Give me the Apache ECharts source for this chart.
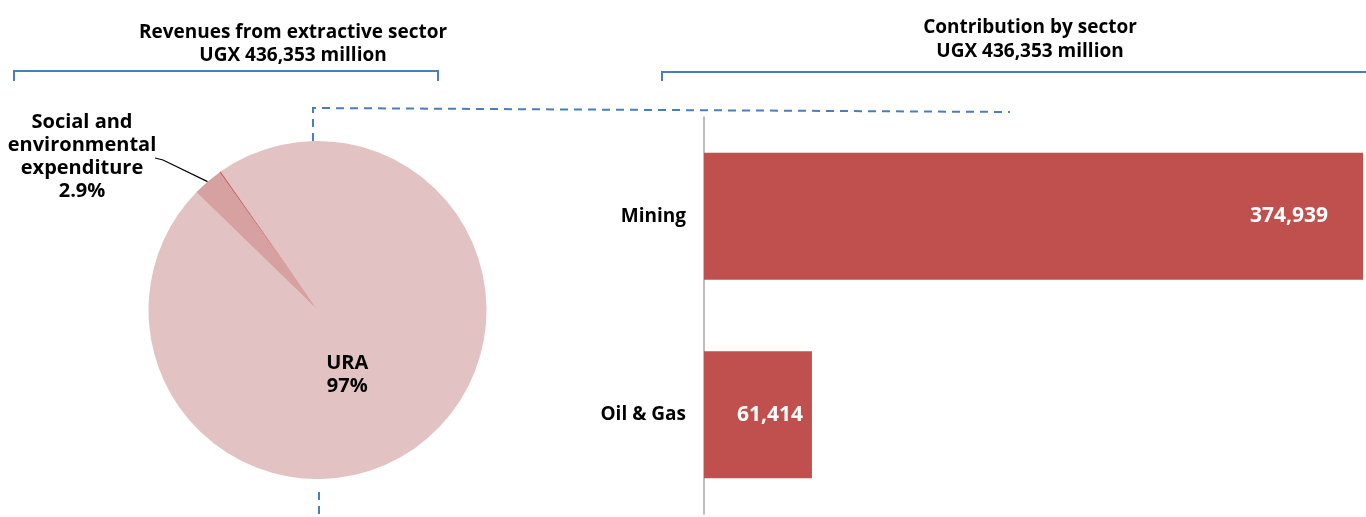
<!DOCTYPE html>
<html><head><meta charset="utf-8">
<script src="https://cdn.jsdelivr.net/npm/echarts@6/dist/echarts.min.js"></script>
<style>html,body{margin:0;padding:0;background:#fff}#c{width:1366px;height:517px}</style>
</head><body><div id="c"></div>
<script>
// ---- data ----
const pieNames = ['URA', 'Social and environmental expenditure', 'Other'];
const pieLabels = ['URA\n97%', 'Social and\nenvironmental\nexpenditure\n2.9%', ''];
const pieValues = [97.0, 2.9, 0.1];
const pieColors = ['#e2c2c3', '#d7a1a1', '#c0504d'];
const sectorCategories = ['Mining', 'Oil & Gas'];
const sectorValues = [374939, 61414];
const sectorLabels = ['374,939', '61,414'];
const leftTitle = ['Revenues from extractive sector', 'UGX 436,353 million'];
const rightTitle = ['Contribution by sector', 'UGX 436,353 million'];

const FONT = '"Open Sans", "DejaVu Sans", sans-serif';
const BLUE = '#4a7ebb';

const chart = echarts.init(document.getElementById('c'), null, {renderer: 'canvas'});

const option = {
  animation: false,
  backgroundColor: '#ffffff',
  title: [
    {
      text: leftTitle.join('\n'), left: 288, top: 16, textAlign: 'center',
      textStyle: {fontFamily: FONT, fontSize: 19, fontWeight: 'bold', color: '#000', lineHeight: 23}
    },
    {
      text: rightTitle.join('\n'), left: 1025, top: 11, textAlign: 'center',
      textStyle: {fontFamily: FONT, fontSize: 19, fontWeight: 'bold', color: '#000', lineHeight: 24}
    }
  ],
  grid: {left: 704, right: 3, top: 117, bottom: 3, containLabel: false},
  xAxis: {type: 'value', min: 0, max: sectorValues[0], show: false},
  yAxis: {
    type: 'category', inverse: true, data: sectorCategories,
    axisLine: {show: true, lineStyle: {color: '#a6a6a6', width: 1.5}},
    axisTick: {show: false},
    axisLabel: {fontFamily: FONT, fontSize: 19, fontWeight: 'bold', color: '#000', margin: 18}
  },
  series: [
    {
      type: 'bar',
      data: sectorValues.map((v, i) => ({
        value: v,
        label: {distance: i === 0 ? 35 : 9}
      })),
      barWidth: 127,
      itemStyle: {color: '#c0504d'},
      label: {
        show: true, position: 'insideRight',
        formatter: p => sectorLabels[p.dataIndex],
        fontFamily: FONT, fontSize: 21, fontWeight: 'bold', color: '#ffffff'
      }
    },
    {
      type: 'pie',
      center: [317.5, 310],
      radius: 169,
      startAngle: 125,
      clockwise: true,
      avoidLabelOverlap: false,
      data: pieValues.map((v, i) => ({
        value: v, name: pieNames[i],
        itemStyle: {color: pieColors[i]},
        label: i === 0 ? {show: true, position: 'inside'} :
               i === 1 ? {show: true, position: 'outside'} : {show: false},
        labelLine: i === 1 ? {show: true, length: 28, length2: 34, lineStyle: {color: '#000', width: 1.2}} : {show: false}
      })),
      label: {
        formatter: p => pieLabels[p.dataIndex],
        fontFamily: FONT, fontSize: 20, fontWeight: 'bold', color: '#000', lineHeight: 23,
        align: 'center'
      },
      labelLayout: function (params) {
        if (params.dataIndex === 0) {
          return {dx: -27, dy: -2};
        }
        if (params.dataIndex === 1) {
          const pts = params.labelLinePoints;
          const p0 = pts ? pts[0] : [207, 182];
          return {
            x: 82, y: 157, align: 'center', verticalAlign: 'middle',
            labelLinePoints: [p0, [163, 160], [155, 158]]
          };
        }
        return {};
      },
      emphasis: {disabled: true}
    }
  ],
  graphic: [
    {type: 'polyline', shape: {points: [[14, 81], [14, 71], [438, 71], [438, 81]]},
     style: {stroke: BLUE, lineWidth: 2, fill: null}},
    {type: 'polyline', shape: {points: [[662, 81], [662, 72], [1366, 72]]},
     style: {stroke: BLUE, lineWidth: 2, fill: null}},
    {type: 'polyline', shape: {points: [[313, 141], [313, 108], [1010, 112]]},
     style: {stroke: BLUE, lineWidth: 2, fill: null, lineDash: [8, 6]}},
    {type: 'polyline', shape: {points: [[319, 492], [319, 517]]},
     style: {stroke: BLUE, lineWidth: 2, fill: null, lineDash: [8, 6]}}
  ]
};
chart.setOption(option);
</script>
</body></html>
